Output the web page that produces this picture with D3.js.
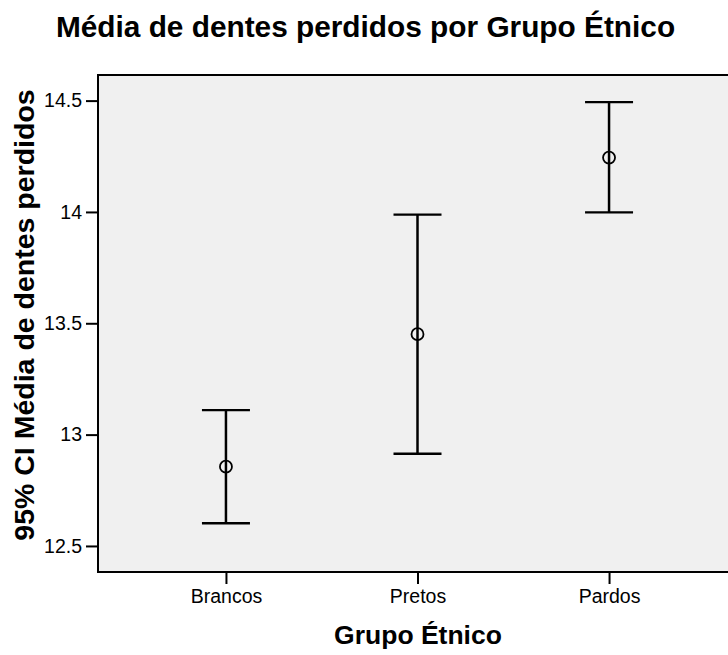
<!DOCTYPE html>
<html>
<head>
<meta charset="utf-8">
<script src="https://cdn.jsdelivr.net/npm/d3@7"></script>
<style>
  html, body { margin: 0; padding: 0; background: #ffffff; }
  svg { display: block; font-family: "Liberation Sans", Arial, sans-serif; }
</style>
</head>
<body>
<svg id="chart" width="728" height="655"></svg>
<script>
// ---- data ----
const categories = ["Brancos", "Pretos", "Pardos"];
const means = [12.856, 13.451, 14.244];
const lower = [12.602, 12.914, 13.998];
const upper = [13.110, 13.988, 14.493];
const yTicks = [12.5, 13, 13.5, 14, 14.5];
const yTickLabels = ["12.5", "13", "13.5", "14", "14.5"];
const title = "Média de dentes perdidos por Grupo Étnico";
const xTitle = "Grupo Étnico";
const yTitle = "95% CI Média de dentes perdidos";

// ---- layout ----
const W = 728, H = 655;
const plot = { left: 98, top: 75, right: 737, bottom: 572 };

const svg = d3.select("#chart");

const x = d3.scalePoint()
  .domain(categories)
  .range([plot.left, plot.right])
  .padding(0.668);

const y = d3.scaleLinear()
  .domain([12.383, 14.615])
  .range([plot.bottom, plot.top]);

// plot background + frame
svg.append("rect")
  .attr("x", plot.left).attr("y", plot.top)
  .attr("width", plot.right - plot.left)
  .attr("height", plot.bottom - plot.top)
  .attr("fill", "#f0f0f0")
  .attr("stroke", "#000")
  .attr("stroke-width", 2);

// y axis
const yAxis = d3.axisLeft(y)
  .tickValues(yTicks)
  .tickFormat((d, i) => yTickLabels[i])
  .tickSizeInner(12).tickSizeOuter(0).tickPadding(4);
const gy = svg.append("g").attr("transform", `translate(${plot.left},0)`).call(yAxis);
gy.select(".domain").remove();
gy.selectAll(".tick line").attr("stroke", "#000").attr("stroke-width", 2);
gy.selectAll(".tick text")
  .attr("fill", "#000")
  .style("font-size", "19.5px")
  .style("font-family", "'Liberation Sans', Arial, sans-serif");

// x axis
const xAxis = d3.axisBottom(x).tickSizeInner(12).tickSizeOuter(0).tickPadding(5);
const gx = svg.append("g").attr("transform", `translate(0,${plot.bottom})`).call(xAxis);
gx.select(".domain").remove();
gx.selectAll(".tick line").attr("stroke", "#000").attr("stroke-width", 2);
gx.selectAll(".tick text")
  .attr("fill", "#000")
  .style("font-size", "19.5px")
  .style("font-family", "'Liberation Sans', Arial, sans-serif");

// redraw frame lines on top of ticks
svg.append("line")
  .attr("x1", plot.left).attr("x2", plot.right)
  .attr("y1", plot.bottom).attr("y2", plot.bottom)
  .attr("stroke", "#000").attr("stroke-width", 2);
svg.append("line")
  .attr("x1", plot.left).attr("x2", plot.left)
  .attr("y1", plot.top - 1).attr("y2", plot.bottom + 1)
  .attr("stroke", "#000").attr("stroke-width", 2);

// error bars
const capHalf = 24;
const data = categories.map((c, i) => ({ c, m: means[i], lo: lower[i], hi: upper[i] }));
const eb = svg.append("g").selectAll("g").data(data).join("g");

eb.append("line")
  .attr("x1", d => x(d.c)).attr("x2", d => x(d.c))
  .attr("y1", d => y(d.hi)).attr("y2", d => y(d.lo))
  .attr("stroke", "#000").attr("stroke-width", 2.5);
eb.append("line")
  .attr("x1", d => x(d.c) - capHalf).attr("x2", d => x(d.c) + capHalf)
  .attr("y1", d => y(d.hi)).attr("y2", d => y(d.hi))
  .attr("stroke", "#000").attr("stroke-width", 2.4);
eb.append("line")
  .attr("x1", d => x(d.c) - capHalf).attr("x2", d => x(d.c) + capHalf)
  .attr("y1", d => y(d.lo)).attr("y2", d => y(d.lo))
  .attr("stroke", "#000").attr("stroke-width", 2.4);
eb.append("circle")
  .attr("cx", d => x(d.c)).attr("cy", d => y(d.m))
  .attr("r", 6)
  .attr("fill", "none")
  .attr("stroke", "#000").attr("stroke-width", 1.8);

// titles
svg.append("text")
  .attr("x", 365.5).attr("y", 37)
  .attr("text-anchor", "middle")
  .style("font-size", "29.8px").style("font-weight", "bold")
  .attr("fill", "#000")
  .text(title);

svg.append("text")
  .attr("x", 418).attr("y", 644)
  .attr("text-anchor", "middle")
  .style("font-size", "26.5px").style("font-weight", "bold")
  .attr("fill", "#000")
  .text(xTitle);

svg.append("text")
  .attr("transform", "translate(34,315) rotate(-90)")
  .attr("text-anchor", "middle")
  .style("font-size", "28.5px").style("font-weight", "bold")
  .attr("fill", "#000")
  .text(yTitle);
</script>
</body>
</html>
